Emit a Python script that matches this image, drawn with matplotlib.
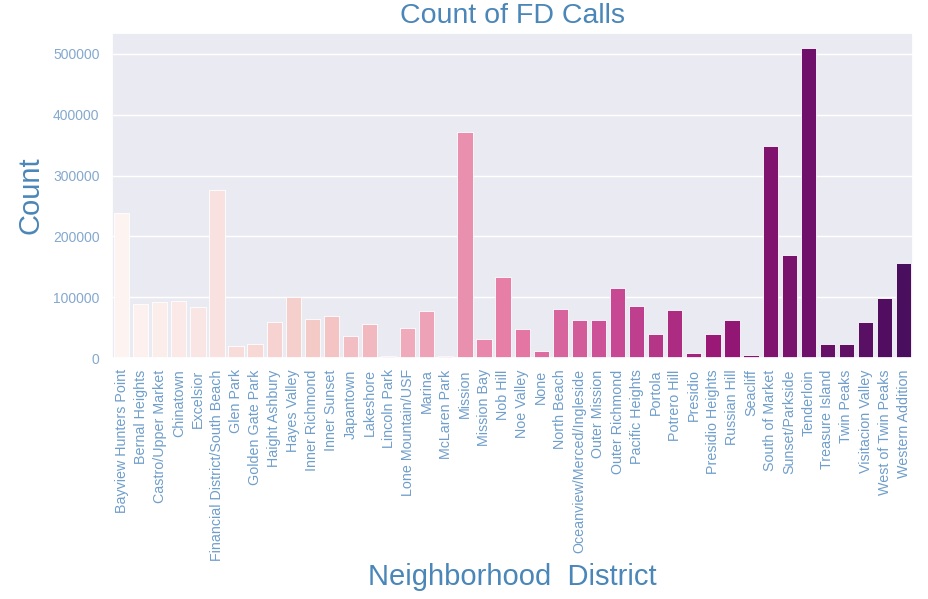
import numpy as np
import pandas as pd
import matplotlib
matplotlib.use("Agg")
import matplotlib.pyplot as plt
import seaborn as sns

# Counts per neighborhood
districts = ['Bayview Hunters Point', 'Bernal Heights', 'Castro/Upper Market', 'Chinatown',
             'Excelsior', 'Financial District/South Beach', 'Glen Park', 'Golden Gate Park',
             'Haight Ashbury', 'Hayes Valley', 'Inner Richmond', 'Inner Sunset', 'Japantown',
             'Lakeshore', 'Lincoln Park', 'Lone Mountain/USF', 'Marina', 'McLaren Park',
             'Mission', 'Mission Bay', 'Nob Hill', 'Noe Valley', 'None', 'North Beach',
             'Oceanview/Merced/Ingleside', 'Outer Mission', 'Outer Richmond', 'Pacific Heights',
             'Portola', 'Potrero Hill', 'Presidio', 'Presidio Heights', 'Russian Hill',
             'Seacliff', 'South of Market', 'Sunset/Parkside', 'Tenderloin', 'Treasure Island',
             'Twin Peaks', 'Visitacion Valley', 'West of Twin Peaks', 'Western Addition']
counts = [238500, 89400, 92100, 94300, 83900, 276900, 20300, 23000, 59800, 99800,
          63600, 69600, 36200, 55900, 4400, 49900, 76800, 4400, 371200, 31300,
          132700, 47700, 12100, 81100, 63000, 63000, 114600, 85000, 39500, 78900,
          8200, 39500, 63000, 6000, 349200, 169400, 508800, 23600, 23600, 59200,
          99200, 155700]

df = pd.DataFrame({'district': districts, 'count': counts})

sns.set_theme(style="darkgrid")
plt.rcParams['font.family'] = ['Liberation Sans', 'DejaVu Sans']

fig = plt.figure(figsize=(9.29, 5.99), dpi=100)
ax = fig.add_axes([0.1206, 0.402, 0.8624, 0.543])

# seaborn barplot look: RdPu palette, desaturated to 0.75
pal = [sns.desaturate(c, 0.75) for c in sns.color_palette("RdPu", len(districts))]
ax.bar(np.arange(len(districts)), df['count'], width=0.8, color=pal,
       edgecolor='white', linewidth=0.6)
ax.set_xlim(-0.5, len(districts) - 0.5)
ax.set_ylim(0, max(counts) * 1.05)
ax.grid(axis='x', visible=False)

ax.set_xticks(np.arange(len(districts)))
ax.set_xticklabels(districts, rotation=90, fontsize=10.25, color='#6f9ecb')
ax.tick_params(axis='x', length=0, pad=8)
ax.tick_params(axis='y', length=0, pad=9, labelsize=10, labelcolor='#84a8cf')

ax.set_title("Count of FD Calls", fontsize=20.5, color='#4a86b8', pad=7)
ax.set_ylabel("Count", fontsize=21, color='#4a86b8', labelpad=6)
ax.set_xlabel("Neighborhood  District", fontsize=21, color='#4a86b8', labelpad=2)

fig.savefig('out.png', dpi=100)
